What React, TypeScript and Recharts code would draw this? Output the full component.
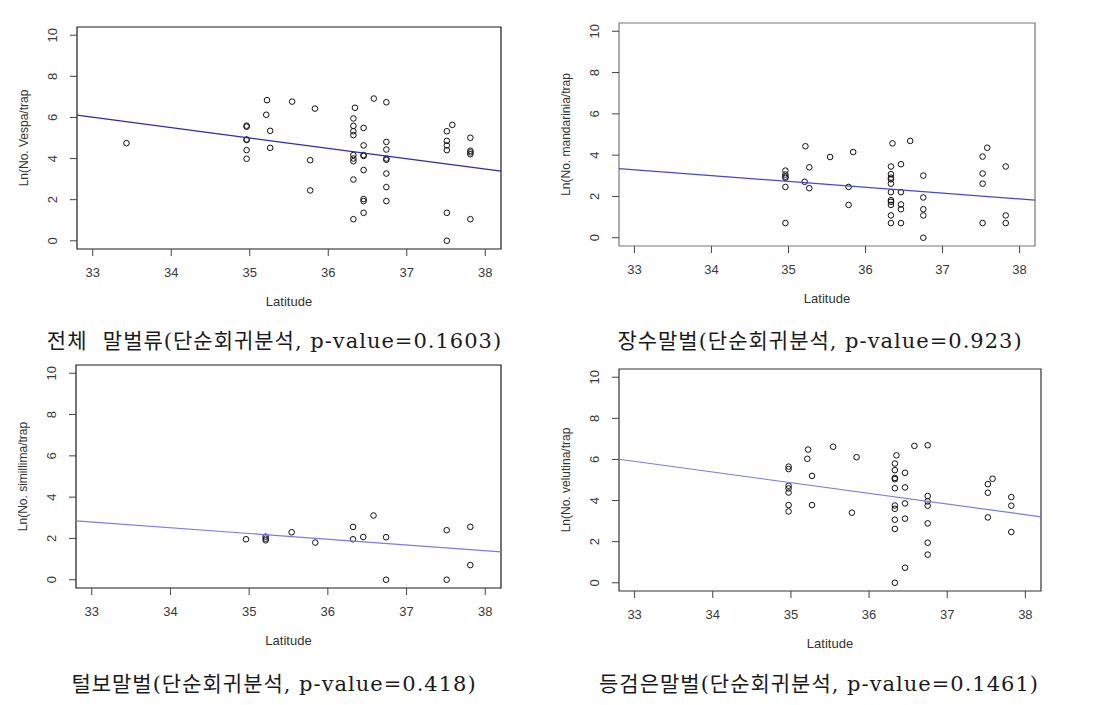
import React from "react";
import { ScatterChart, Scatter, XAxis, YAxis, ReferenceArea } from "recharts";

// ---- shared axis definitions ----
const latTicks = [33, 34, 35, 36, 37, 38];
const valueTicks = [0, 2, 4, 6, 8, 10];
const latDomain: [number, number] = [32.8, 38.2];
const valueDomain: [number, number] = [-0.4, 10.4];
const fitLat = [32.8, 38.2];

// ---- panel 1: all Vespa ----
const allLat = [
  33.43,
  34.96, 34.96, 34.96, 34.96, 34.96, 34.96,
  35.22, 35.21, 35.26, 35.26,
  35.54, 35.83, 35.77, 35.77,
  36.34, 36.32, 36.32, 36.32, 36.32, 36.32, 36.32, 36.32, 36.32, 36.32,
  36.45, 36.45, 36.45, 36.45, 36.45, 36.45, 36.45, 36.45,
  36.58,
  36.74, 36.74, 36.74, 36.74, 36.74, 36.74, 36.74, 36.74,
  37.51, 37.51, 37.51, 37.51, 37.51, 37.51,
  37.58,
  37.81, 37.81, 37.81, 37.81, 37.81,
];
const allVal = [
  4.75,
  5.6, 5.55, 4.93, 4.9, 4.41, 3.99,
  6.84, 6.13, 5.35, 4.52,
  6.77, 6.43, 3.92, 2.45,
  6.47, 5.95, 5.59, 5.33, 5.14, 4.17, 4.0, 3.87, 2.98, 1.05,
  5.49, 4.64, 4.17, 4.13, 3.44, 2.03, 1.93, 1.36,
  6.92,
  6.74, 4.81, 4.44, 4.0, 3.94, 3.27, 2.61, 1.93,
  5.33, 4.86, 4.64, 4.41, 1.36, 0,
  5.64,
  5.01, 4.38, 4.3, 4.21, 1.05,
];
const allFit = [6.11, 3.39];

// ---- panel 2: V. mandarinia ----
const manLat = [
  34.96, 34.96, 34.96, 34.96, 34.96, 34.96,
  35.22, 35.21, 35.27, 35.27,
  35.54, 35.84, 35.78, 35.78,
  36.33, 36.33, 36.33, 36.33, 36.33, 36.33, 36.33, 36.33, 36.33, 36.33, 36.33,
  36.35,
  36.46, 36.46, 36.46, 36.46, 36.46,
  36.58,
  36.75, 36.75, 36.75, 36.75, 36.75,
  37.52, 37.52, 37.52, 37.52,
  37.58,
  37.82, 37.82, 37.82,
];
const manVal = [
  3.25, 3.06, 2.96, 2.9, 2.46, 0.71,
  4.43, 2.71, 3.41, 2.4,
  3.91, 4.15, 2.46, 1.59,
  3.45, 3.08, 2.91, 2.83, 2.62, 2.21, 1.82, 1.74, 1.59, 1.08, 0.71,
  4.57,
  3.56, 2.21, 1.61, 1.38, 0.71,
  4.69,
  3.01, 1.95, 1.38, 1.08, 0,
  3.93, 3.11, 2.62, 0.71,
  4.36,
  3.45, 1.08, 0.71,
];
const manFit = [3.35, 1.82];

// ---- panel 3: V. simillima ----
const simLat = [
  34.96, 35.21, 35.21, 35.21, 35.54, 35.84,
  36.32, 36.32, 36.45, 36.58, 36.74, 36.74,
  37.51, 37.51, 37.81, 37.81,
];
const simVal = [
  1.96, 2.09, 1.99, 1.91, 2.3, 1.8,
  2.56, 1.96, 2.07, 3.11, 2.06, 0,
  2.4, 0, 2.56, 0.71,
];
const simFit = [2.85, 1.35];

// ---- panel 4: V. velutina ----
const velLat = [
  34.97, 34.97, 34.97, 34.97, 34.97, 34.97, 34.97,
  35.22, 35.21, 35.27, 35.27,
  35.54, 35.84, 35.78,
  36.33, 36.33, 36.33, 36.33, 36.33, 36.33, 36.33, 36.33, 36.33, 36.33,
  36.35,
  36.46, 36.46, 36.46, 36.46, 36.46,
  36.58,
  36.75, 36.75, 36.75, 36.75, 36.75, 36.75, 36.75,
  37.52, 37.52, 37.52,
  37.58,
  37.82, 37.82, 37.82,
];
const velVal = [
  5.65, 5.53, 4.72, 4.59, 4.39, 3.78, 3.47,
  6.48, 6.03, 5.2, 3.78,
  6.62, 6.11, 3.41,
  5.8, 5.48, 5.1, 5.04, 4.6, 3.76, 3.6, 3.07, 2.62, 0,
  6.2,
  5.35, 4.64, 3.86, 3.12, 0.73,
  6.66,
  6.69, 4.22, 3.96, 3.75, 2.89, 1.95, 1.37,
  4.8, 4.38, 3.18,
  5.06,
  4.17, 3.75, 2.47,
];
const velFit = [6.01, 3.21];

// ---- text ----
const yTitles = [
  "Ln(No. Vespa/trap",
  "Ln(No. mandarinia/trap",
  "Ln(No. simillima/trap",
  "Ln(No. velutina/trap",
];
const xTitle = "Latitude";
const captions = [
  "전체  말벌류(단순회귀분석, p-value=0.1603)",
  "장수말벌(단순회귀분석, p-value=0.923)",
  "털보말벌(단순회귀분석, p-value=0.418)",
  "등검은말벌(단순회귀분석, p-value=0.1461)",
];

const zip = (xs: number[], ys: number[]) => xs.map((x, i) => ({ lat: x, v: ys[i] }));

const AXIS_FONT = '"Liberation Sans", Arial, sans-serif';

const XTick = (p: any) => (
  <text x={p.x} y={p.y} textAnchor="middle" dominantBaseline="central" fontSize={13} fill="#3a3a3a" fontFamily={AXIS_FONT}>
    {p.payload.value}
  </text>
);

const YTick = (p: any) => (
  <text
    x={p.x}
    y={p.y}
    transform={`rotate(-90 ${p.x} ${p.y})`}
    textAnchor="middle"
    dominantBaseline="central"
    fontSize={13}
    fill="#3a3a3a"
    fontFamily={AXIS_FONT}
  >
    {p.payload.value}
  </text>
);

const Circle = (p: any) => (
  <circle cx={p.cx} cy={p.cy} r={2.8} fill="none" stroke="#111" strokeWidth={1} />
);
const NoShape = () => <g />;

type PanelProps = {
  left: number;
  top: number;
  width: number;
  height: number;
  plot: { l: number; t: number; r: number; b: number };
  lat: number[];
  val: number[];
  fit: number[];
  yTitle: string;
  lineColor: string;
  boxColor: string;
};

function Panel({ left, top, width, height, plot, lat, val, fit, yTitle, lineColor, boxColor }: PanelProps) {
  const points = zip(lat, val);
  const fitLine = zip(fitLat, fit);
  const xLabel = (props: any) => {
    const vb = props.viewBox || {};
    return (
      <text
        x={vb.x + vb.width / 2}
        y={vb.y + 52.5}
        textAnchor="middle"
        dominantBaseline="central"
        fontSize={13}
        fill="#333"
        fontFamily={AXIS_FONT}
      >
        {xTitle}
      </text>
    );
  };
  const yLabel = (props: any) => {
    const vb = props.viewBox || {};
    const cx = vb.x + vb.width - 53;
    const cy = vb.y + vb.height / 2;
    return (
      <text
        x={cx}
        y={cy}
        transform={`rotate(-90 ${cx} ${cy})`}
        textAnchor="middle"
        dominantBaseline="central"
        fontSize={12}
        fill="#333"
        fontFamily={AXIS_FONT}
      >
        {yTitle}
      </text>
    );
  };
  return (
    <div style={{ position: "absolute", left, top, width, height }}>
      <ScatterChart
        width={width}
        height={height}
        margin={{ top: plot.t, right: width - plot.r, bottom: 0, left: 0 }}
      >
        <XAxis
          type="number"
          dataKey="lat"
          domain={latDomain}
          ticks={latTicks}
          interval={0}
          allowDataOverflow
          height={height - plot.b}
          axisLine={false}
          tickLine={{ stroke: "#444" }}
          tickSize={7}
          tickMargin={16}
          tick={<XTick />}
          label={xLabel}
        />
        <YAxis
          type="number"
          dataKey="v"
          domain={valueDomain}
          ticks={valueTicks}
          interval={0}
          allowDataOverflow
          width={plot.l}
          axisLine={false}
          tickLine={{ stroke: "#444" }}
          tickSize={7}
          tickMargin={17}
          tick={<YTick />}
          label={yLabel}
        />
        <ReferenceArea
          x1={latDomain[0]}
          x2={latDomain[1]}
          y1={valueDomain[0]}
          y2={valueDomain[1]}
          fill="none"
          fillOpacity={0}
          stroke={boxColor}
          strokeWidth={1.2}
        />
        <Scatter data={points} shape={<Circle />} isAnimationActive={false} />
        <Scatter
          data={fitLine}
          line={{ stroke: lineColor, strokeWidth: 1.2 }}
          shape={<NoShape />}
          isAnimationActive={false}
        />
      </ScatterChart>
    </div>
  );
}

const captionStyle = (cx: number, cy: number): React.CSSProperties => ({
  position: "absolute",
  left: cx,
  top: cy - 13,
  transform: "translateX(-50%)",
  whiteSpace: "pre",
  lineHeight: "26px",
  fontSize: 21,
  letterSpacing: "1px",
  color: "#1a1a1a",
  fontFamily: '"DejaVu Serif", "Noto Sans CJK KR", serif',
});

export default function App() {
  return (
    <div style={{ position: "absolute", left: 0, top: 0, width: 1107, height: 705, background: "#fff", overflow: "hidden" }}>
      <Panel
        left={0}
        top={0}
        width={550}
        height={320}
        plot={{ l: 77, t: 27, r: 501, b: 249 }}
        lat={allLat}
        val={allVal}
        fit={allFit}
        yTitle={yTitles[0]}
        lineColor="#2a2ab4"
        boxColor="#1a1a1a"
      />
      <Panel
        left={550}
        top={0}
        width={557}
        height={320}
        plot={{ l: 69, t: 23, r: 485, b: 246 }}
        lat={manLat}
        val={manVal}
        fit={manFit}
        yTitle={yTitles[1]}
        lineColor="#4646d6"
        boxColor="#777"
      />
      <Panel
        left={0}
        top={355}
        width={550}
        height={310}
        plot={{ l: 76, t: 10, r: 501, b: 233 }}
        lat={simLat}
        val={simVal}
        fit={simFit}
        yTitle={yTitles[2]}
        lineColor="#7a7aee"
        boxColor="#1a1a1a"
      />
      <Panel
        left={550}
        top={355}
        width={557}
        height={310}
        plot={{ l: 69, t: 14, r: 491, b: 236 }}
        lat={velLat}
        val={velVal}
        fit={velFit}
        yTitle={yTitles[3]}
        lineColor="#7a7aee"
        boxColor="#333"
      />
      <div style={captionStyle(274.5, 341)}>{captions[0]}</div>
      <div style={captionStyle(820, 341)}>{captions[1]}</div>
      <div style={captionStyle(274, 684)}>{captions[2]}</div>
      <div style={captionStyle(819, 684)}>{captions[3]}</div>
    </div>
  );
}
